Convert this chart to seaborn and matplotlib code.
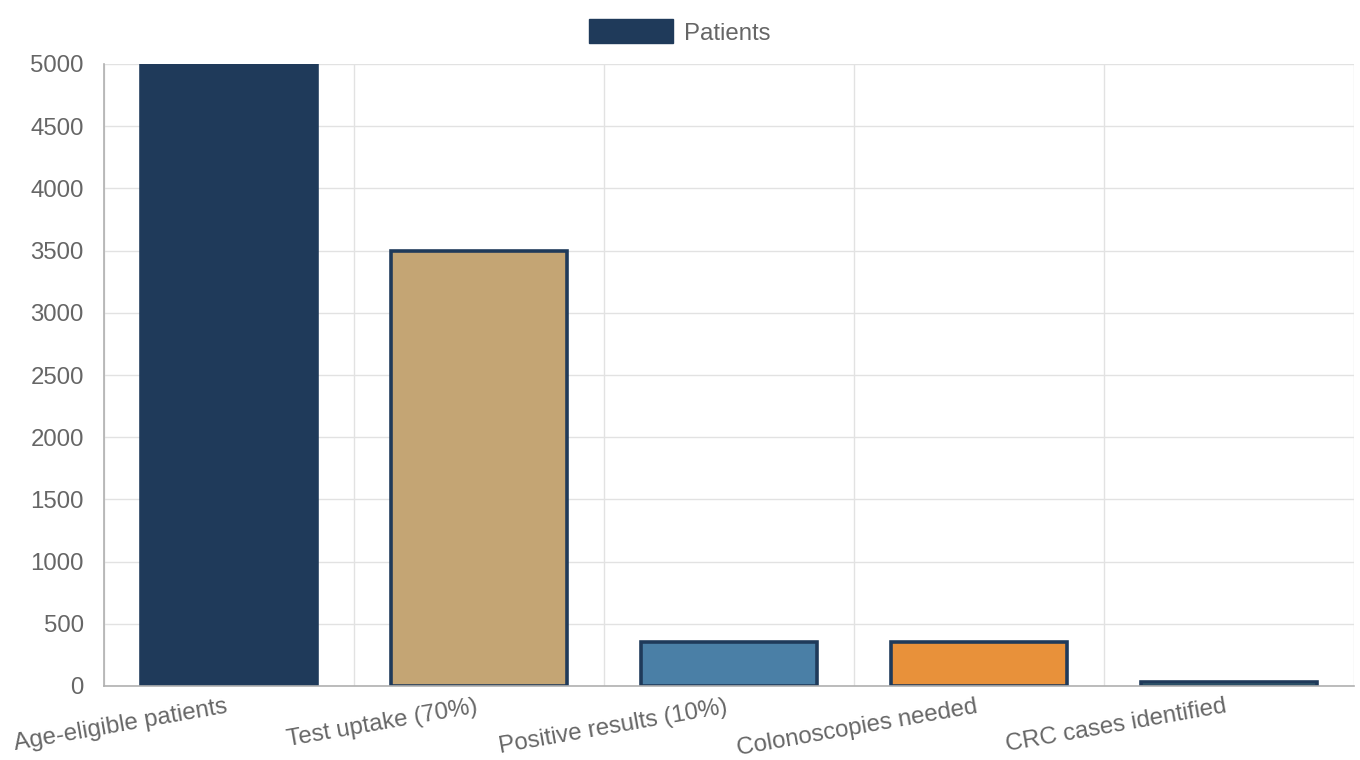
import numpy as np
import pandas as pd
import matplotlib
matplotlib.use('Agg')
import matplotlib.pyplot as plt
import matplotlib.transforms as mtransforms
from matplotlib.patches import Patch
import seaborn as sns

# data
stages = ['Age-eligible patients', 'Test uptake (70%)', 'Positive results (10%)',
          'Colonoscopies needed', 'CRC cases identified']
patients = [5000, 3500, 350, 350, 35]
bar_colors = ['#1f3a5a', '#c4a574', '#4a7fa6', '#e8913a', '#5fa89b']
edge_colors = ['#1f3a5a', '#1f3a5a', '#1f3a5a', '#1f3a5a', '#1f3a5a']

df = pd.DataFrame({'stage': stages, 'patients': patients})

sns.set_style('white')
plt.rcParams['font.family'] = ['Liberation Sans', 'DejaVu Sans']

text_col = '#666666'
grid_col = '#e2e2e2'
axis_col = '#b0b0b0'

fig = plt.figure(figsize=(13.6, 7.6), dpi=100)
ax = fig.add_axes([104 / 1360, 74 / 760, 1250 / 1360, 622 / 760])

sns.barplot(data=df, x='stage', y='patients', hue='stage', palette=bar_colors,
            saturation=1, width=0.705, legend=False, ax=ax, zorder=3)

for patch, ec in zip(ax.patches, edge_colors):
    patch.set_edgecolor(ec)
    patch.set_linewidth(2.6)

ax.set_xlim(-0.5, len(stages) - 0.5)
ax.set_ylim(0, 5000)
ax.set_yticks(np.arange(0, 5001, 500))

# category labels on the centres, grid lines and tick marks on the boundaries
ax.set_xticks(range(len(stages)))
ax.set_xticklabels(stages, rotation=10, ha='right', rotation_mode='anchor')
ax.set_xticks(np.arange(-0.5, len(stages), 1), minor=True)
ax.tick_params(axis='x', which='major', length=0, pad=7, labelsize=17.3, labelcolor=text_col)
ax.tick_params(axis='x', which='minor', length=12, width=1, color=grid_col)
ax.tick_params(axis='y', length=12, width=1, color=grid_col, pad=2.5,
               labelsize=17.3, labelcolor=text_col)

shift = mtransforms.ScaledTranslation(-4 / 100, 0, fig.dpi_scale_trans)
for lbl in ax.get_xticklabels():
    lbl.set_transform(lbl.get_transform() + shift)

ax.grid(True, axis='x', which='minor', color=grid_col, lw=1, zorder=0)
ax.grid(True, axis='y', which='major', color=grid_col, lw=1, zorder=0)
ax.grid(False, axis='x', which='major')
ax.set_axisbelow(True)

for side in ['top', 'right']:
    ax.spines[side].set_visible(False)
for side in ['left', 'bottom']:
    ax.spines[side].set_color(axis_col)
    ax.spines[side].set_linewidth(1.2)
    ax.spines[side].set_zorder(4)

ax.set_xlabel('')
ax.set_ylabel('')

handle = Patch(facecolor=bar_colors[0], edgecolor=bar_colors[0])
fig.legend(handles=[handle], labels=['Patients'], loc='center', bbox_to_anchor=(0.5, 1 - 32 / 760),
           frameon=False, fontsize=17.3, labelcolor=text_col,
           handlelength=3.5, handleheight=1.15, handletextpad=0.45)

fig.savefig('out.png', dpi=100)
